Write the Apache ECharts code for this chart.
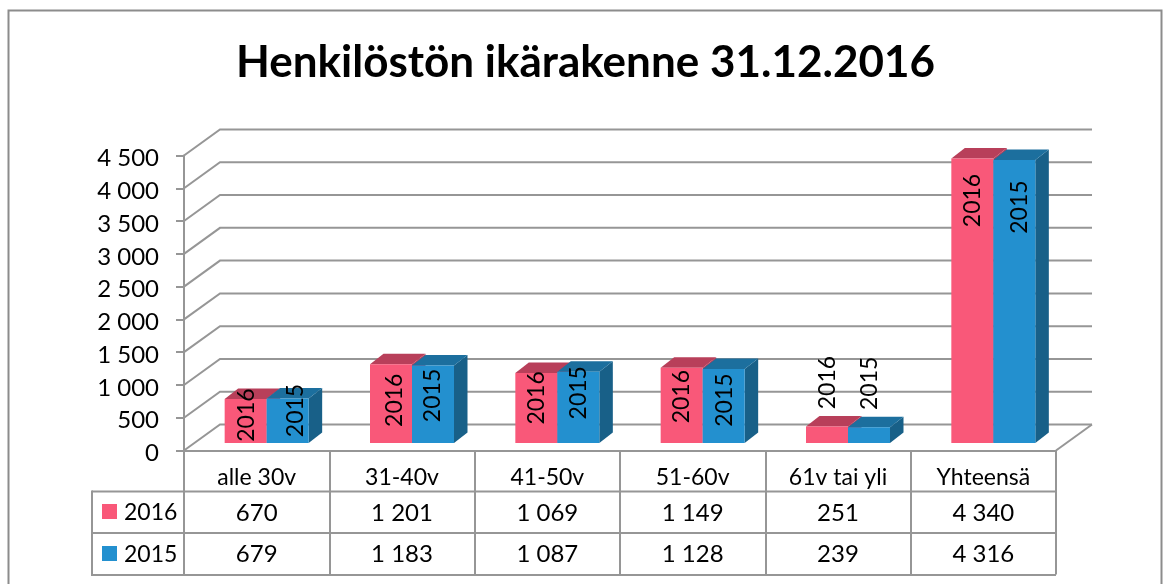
<!DOCTYPE html>
<html>
<head>
<meta charset="utf-8">
<title>Henkilöstön ikärakenne</title>
<script src="https://cdn.jsdelivr.net/npm/echarts@6/dist/echarts.min.js"></script>
<style>
  html, body { margin: 0; background: #fff; }
  #chart { width: 1166px; height: 584px; }
</style>
</head>
<body>
<div id="chart"></div>
<script>
var titleText = 'Henkilöstön ikärakenne 31.12.2016'
var categories = ['alle 30v', '31-40v', '41-50v', '51-60v', '61v tai yli', 'Yhteensä']
var values2016 = [670, 1201, 1069, 1149, 251, 4340]
var values2015 = [679, 1183, 1087, 1128, 239, 4316]
var yTicks = [0, 500, 1000, 1500, 2000, 2500, 3000, 3500, 4000, 4500]

// 数据标签相对柱顶的位置（原图里每个都不一样）
var labelPos2016 = [[-20, 16], [-17, 36], [-21, 25], [-21, 29], [-20, -44], [-21, 42]]
var labelPos2015 = [[29, 12], [21, 30], [21, 21], [22, 31], [22, -44], [26, 47]]

var FONT = 'Lato'
var GRAY = '#969696'
var TEXT = '#000'
var wall = [36, -26] // 后墙偏移
var floor = [10, -7.5] // 柱子在地板上的偏移
var depth = [13.5, -10.5] // 柱子厚度
var barW = 42
var rows = [{ y: 513, mid: 511.5 }, { y: 554, mid: 553.5 }]
var tableTop = 451
var tableBottom = 575

function fmt(v) {
  return String(v).replace(/\B(?=(\d{3})+$)/g, ' ')
}

function poly(points, color) {
  return { type: 'polygon', shape: { points: points }, style: { fill: color } }
}

// 3D 柱子
function barSeries(name, values, labelPos, side, front, top, sideColor) {
  return {
    type: 'custom',
    name: name,
    z: 3,
    silent: true,
    data: values.map(function (v, i) { return [i, v] }),
    renderItem: function (params, api) {
      var i = api.value(0)
      var base = api.coord([i, 0])
      var peak = api.coord([i, api.value(1)])
      var x0 = base[0] + floor[0] + (side === 0 ? -barW : 0)
      var x1 = x0 + barW
      var y0 = base[1] + floor[1]
      var y1 = peak[1] + floor[1]
      var dx = depth[0]
      var dy = depth[1]
      var pos = labelPos[i]
      return {
        type: 'group',
        children: [
          poly([[x1, y0], [x1 + dx, y0 + dy], [x1 + dx, y1 + dy], [x1, y1]], sideColor),
          poly([[x0, y1], [x1, y1], [x1 + dx, y1 + dy], [x0 + dx, y1 + dy]], top),
          { type: 'rect', shape: { x: x0, y: y1, width: barW, height: y0 - y1 }, style: { fill: front } },
          {
            type: 'text',
            x: base[0] + floor[0] + pos[0],
            y: y1 + pos[1],
            rotation: Math.PI / 2,
            z2: 5,
            style: { text: name, font: '23px ' + FONT, fill: TEXT, align: 'center', verticalAlign: 'middle' }
          }
        ]
      }
    }
  }
}

// 后墙网格线
var wallSeries = {
  type: 'custom',
  z: 1,
  silent: true,
  data: yTicks.map(function (v) { return [0, v] }),
  renderItem: function (params, api) {
    var a = api.coord([0, api.value(1)])
    var left = params.coordSys.x
    var right = left + params.coordSys.width
    var y = a[1]
    return {
      type: 'polyline',
      shape: { points: [[left, y], [left + wall[0], y + wall[1]], [right + wall[0], y + wall[1]]] },
      style: { stroke: GRAY, lineWidth: 2, fill: 'none' }
    }
  }
}

// 右下角地板斜线
var floorEdge = {
  type: 'custom',
  z: 1,
  silent: true,
  data: [[5, 0]],
  renderItem: function (params, api) {
    var right = params.coordSys.x + params.coordSys.width
    var y = api.coord([0, 0])[1]
    return {
      type: 'line',
      shape: { x1: right, y1: y, x2: right + wall[0], y2: y + wall[1] },
      style: { stroke: GRAY, lineWidth: 2 }
    }
  }
}

// 表格里的数字
function tableSeries(values, row) {
  return {
    type: 'custom',
    z: 4,
    silent: true,
    data: values.map(function (v, i) { return [i, v] }),
    renderItem: function (params, api) {
      return {
        type: 'text',
        x: api.coord([api.value(0), 0])[0],
        y: row.y,
        style: { text: fmt(api.value(1)), font: '24px ' + FONT, fill: TEXT, align: 'center', verticalAlign: 'middle' }
      }
    }
  }
}

function hline(x1, x2, y) {
  return { type: 'line', shape: { x1: x1, y1: y, x2: x2, y2: y }, style: { stroke: GRAY, lineWidth: 2 } }
}

function legendKey(name, color, row) {
  return [
    { type: 'rect', shape: { x: 102, y: row.mid - 7.5, width: 15, height: 15 }, style: { fill: color } },
    { type: 'text', x: 124, y: row.mid + 1, style: { text: name, font: '23px ' + FONT, fill: TEXT, align: 'left', verticalAlign: 'middle' } }
  ]
}

var myChart = echarts.init(document.getElementById('chart'), null, { renderer: 'canvas' })
myChart.setOption({
  animation: false,
  backgroundColor: '#fff',
  title: {
    text: titleText,
    left: 231,
    top: 36,
    textStyle: { fontFamily: FONT, fontWeight: 'bold', fontSize: 44, color: '#000' }
  },
  grid: { left: 184, right: 110, top: 155.5, height: 295 },
  xAxis: {
    type: 'category',
    data: categories,
    axisLine: { lineStyle: { color: GRAY, width: 2 } },
    axisTick: { show: true, length: tableBottom - tableTop, lineStyle: { color: GRAY, width: 2 } },
    axisLabel: { fontFamily: FONT, fontSize: 23, color: TEXT, margin: 16, interval: 0 },
    splitLine: { show: false }
  },
  yAxis: {
    type: 'value',
    min: 0,
    max: 4500,
    interval: 500,
    axisLine: { show: true, lineStyle: { color: GRAY, width: 2 } },
    axisTick: { show: true, length: 8, lineStyle: { color: GRAY, width: 2 } },
    axisLabel: {
      fontFamily: FONT,
      fontSize: 24,
      color: TEXT,
      margin: 25,
      verticalAlign: 'top',
      lineHeight: 6,
      formatter: function (v) { return fmt(v) }
    },
    splitLine: { show: false }
  },
  graphic: [
    { type: 'rect', shape: { x: 8.5, y: 10.5, width: 1153, height: 600 }, style: { fill: 'none', stroke: '#8c8c8c', lineWidth: 2 }, z: -1 },
    hline(92, 1056, 491.5),
    hline(92, 1056, 533),
    hline(92, 1056, 575),
    { type: 'line', shape: { x1: 92, y1: 490.5, x2: 92, y2: 576 }, style: { stroke: GRAY, lineWidth: 2 } }
  ].concat(legendKey('2016', '#f95879', rows[0]), legendKey('2015', '#2390cf', rows[1])),
  series: [
    wallSeries,
    floorEdge,
    barSeries('2016', values2016, labelPos2016, 0, '#f95879', '#b83f5a', '#b83f5a'),
    barSeries('2015', values2015, labelPos2015, 1, '#2390cf', '#1c6f9e', '#186088'),
    tableSeries(values2016, rows[0]),
    tableSeries(values2015, rows[1])
  ]
})
</script>
</body>
</html>
